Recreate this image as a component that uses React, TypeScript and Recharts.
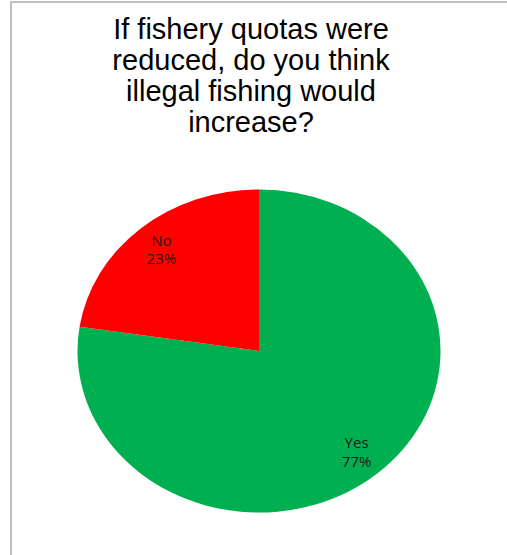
import React from 'react';
import { PieChart, Pie, Cell } from 'recharts';

const categories = ['Yes', 'No'];
// slice boundary sits a touch before 23%, labels still round to 77% / 23%
const shares = [77.4, 22.6];
const sliceColors = ['#00b050', '#ff0000'];
const titleLines = [
  'If fishery quotas were',
  'reduced, do you think',
  'illegal fishing would',
  'increase?',
];

const data = categories.map((name, i) => ({ name, value: shares[i] }));

// the pie in the reference is a little flatter than a circle
const CX = 259;
const CY = 351;
const R = 181.5;
const SQUASH = 0.89;

const renderLabel = (props: any) => {
  const { cx, cy, midAngle, outerRadius, name, percent } = props;
  const rad = (-midAngle * Math.PI) / 180;
  const x = cx + outerRadius * 0.825 * Math.cos(rad);
  const y = cy + outerRadius * 0.825 * Math.sin(rad) * SQUASH;
  return (
    <text x={x} y={y} textAnchor="middle" fontFamily="'Open Sans', sans-serif" fontSize={15} fill="#1a1a1a">
      <tspan x={x} dy={-4}>{name}</tspan>
      <tspan x={x} dy={18.5}>{Math.round(percent * 100)}%</tspan>
    </text>
  );
};

const App: React.FC = () => {
  return (
    <div style={{ position: 'relative', width: 507, height: 555, background: '#fff', overflow: 'hidden' }}>
      <style>{`
        body { margin: 0; }
        .recharts-pie-sector { transform-origin: ${CX}px ${CY}px; transform: scaleY(${SQUASH}); }
      `}</style>
      <div
        style={{
          position: 'absolute',
          left: 10,
          top: 1,
          width: 497,
          height: 554,
          borderLeft: '2px solid #c0c0c0',
          borderTop: '2px solid #c0c0c0',
          boxSizing: 'border-box',
        }}
      />
      <div
        style={{
          position: 'absolute',
          left: 0,
          top: 13.5,
          width: 502,
          textAlign: 'center',
          fontFamily: "'Liberation Sans', Arial, sans-serif",
          fontSize: 29,
          lineHeight: '31px',
          color: '#000',
        }}
      >
        {titleLines.map((line) => (
          <div key={line}>{line}</div>
        ))}
      </div>
      <div style={{ position: 'absolute', left: 0, top: 0 }}>
        <PieChart width={507} height={555} margin={{ top: 0, right: 0, bottom: 0, left: 0 }}>
          <Pie
            data={data}
            dataKey="value"
            nameKey="name"
            cx={CX}
            cy={CY}
            outerRadius={R}
            startAngle={90}
            endAngle={-270}
            stroke="none"
            label={renderLabel}
            labelLine={false}
            isAnimationActive={false}
          >
            {data.map((d, i) => (
              <Cell key={d.name} fill={sliceColors[i]} />
            ))}
          </Pie>
        </PieChart>
      </div>
    </div>
  );
};

export default App;
